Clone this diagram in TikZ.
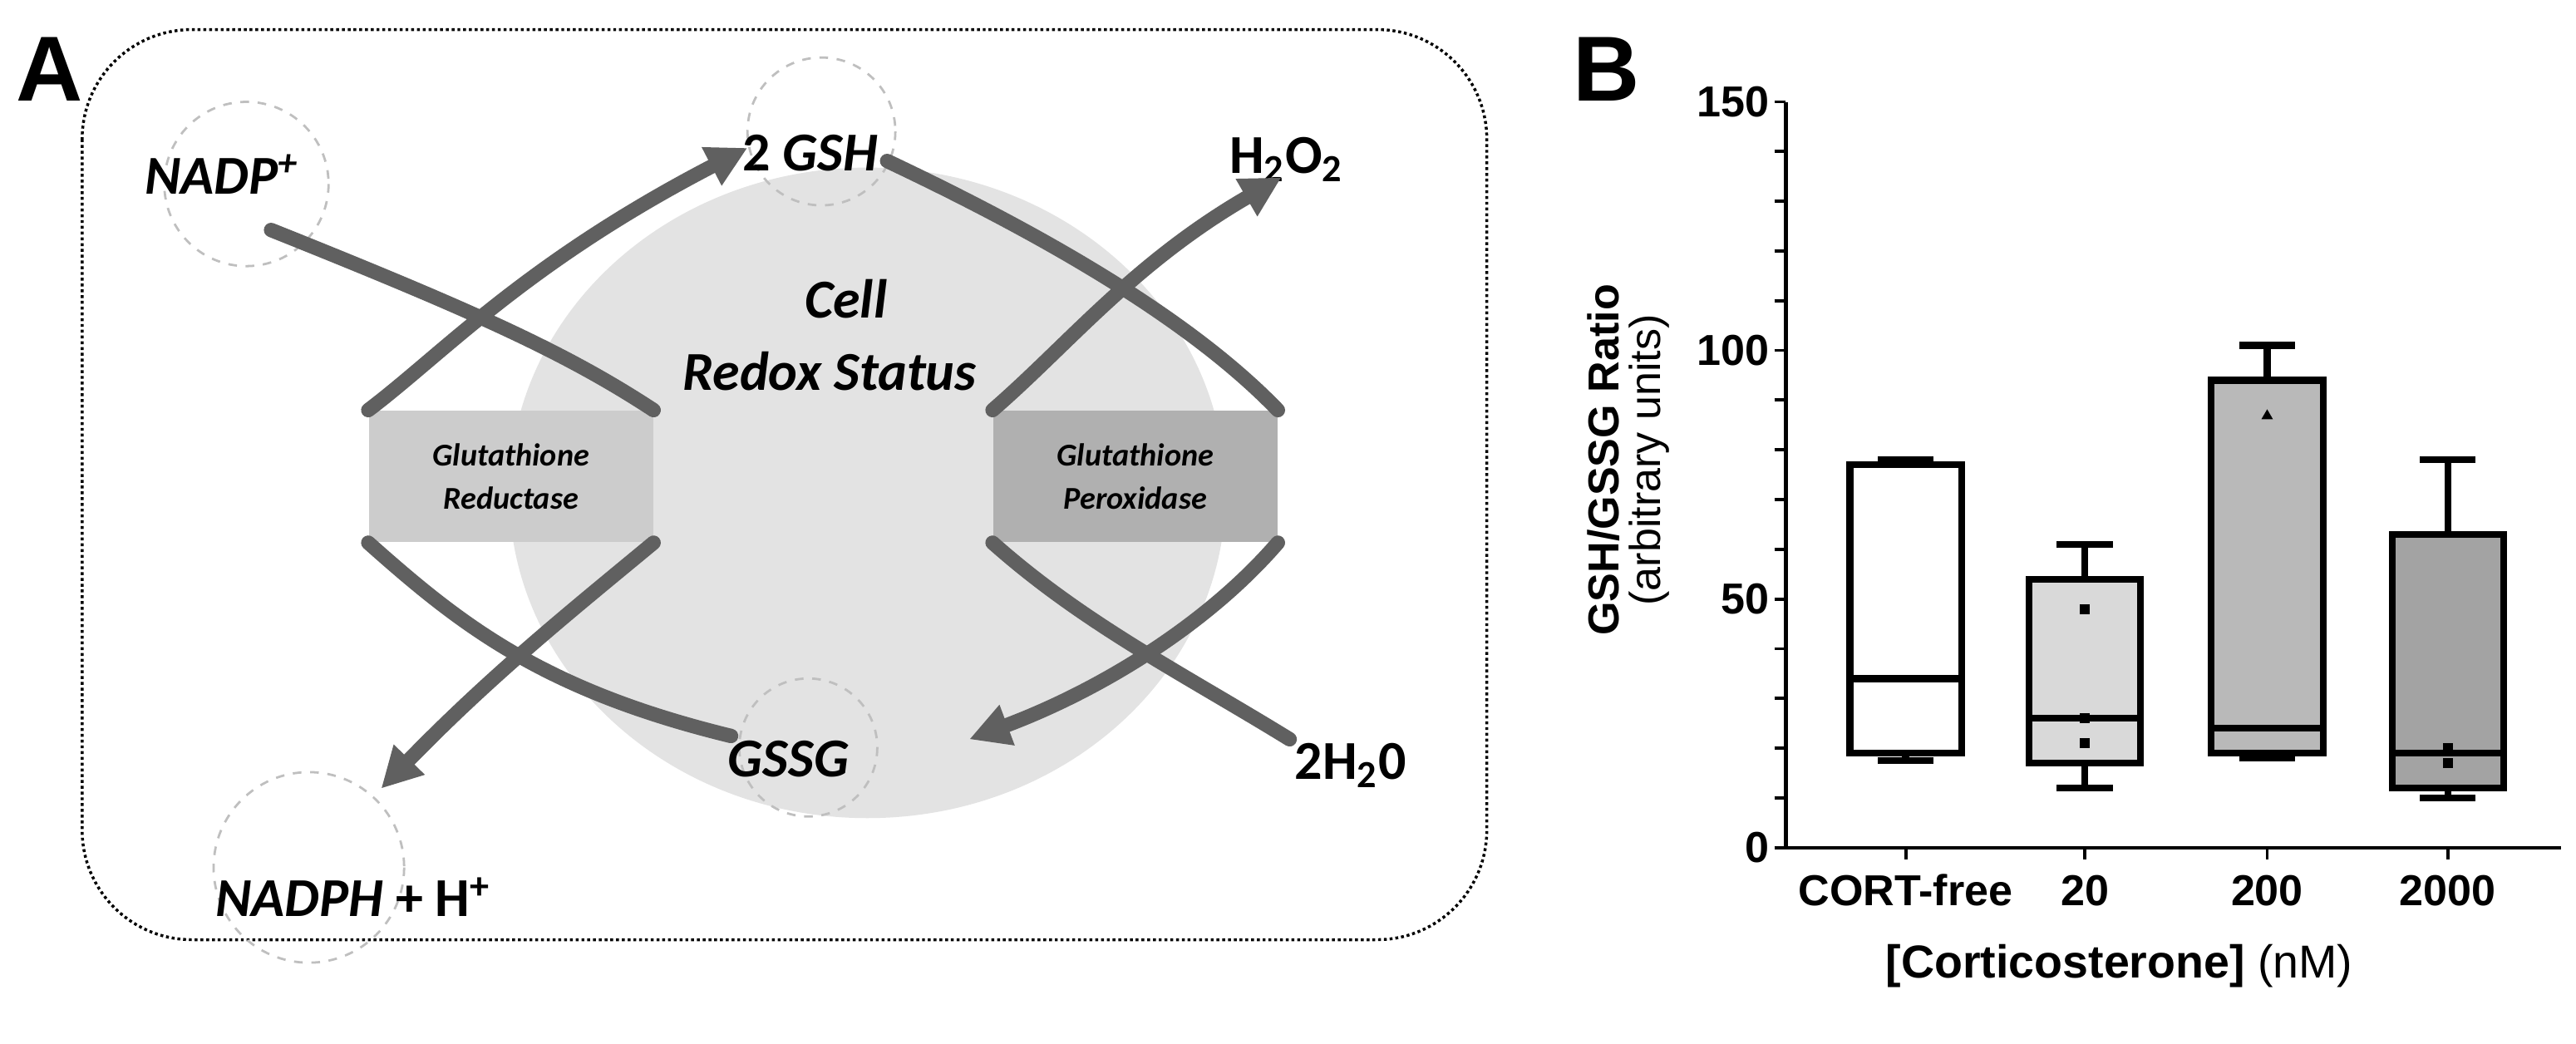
\documentclass[tikz,border=0pt]{standalone}
\usepackage{fontspec}
\setmainfont{Liberation Sans}
\newfontfamily\carl{Carlito}
\usetikzlibrary{arrows.meta}
\begin{document}
\begin{tikzpicture}[x=0.02cm,y=-0.02cm,
  lab/.style={font=\carl\bfseries\itshape\fontsize{19}{22}\selectfont},
  dc/.style={draw=gray!50,dashed,line width=0.8pt},
  flow/.style={draw=gray!75!black,line width=5pt,line cap=round},
  flowa/.style={flow,-{Triangle[length=14pt,width=14pt]}},
  enz/.style={font=\carl\bfseries\itshape\fontsize{11}{15}\selectfont,align=center,minimum width=3.46cm,minimum height=1.6cm},
  bx/.style={draw=black,line width=2.4pt},
  tick/.style={font=\bfseries\fontsize{15}{17}\selectfont}]
\useasboundingbox (0,0) rectangle (1568,635);
% Panel A
\node[font=\bfseries\fontsize{32}{34}\selectfont] (A) at (30,42) {A};
\draw[line width=1pt,densely dotted,rounded corners=38pt] (50,18) rectangle (905,572);
\fill[gray!22] (528,300) ellipse (218 and 198);
\draw[dc] (150,112) circle (50);
\draw[dc] (500,80) circle (45);
\draw[dc] (492,455) circle (42);
\draw[dc] (188,528) circle (58);
\node[enz,fill=gray!40] (GR) at (311,290) {Glutathione\\Reductase};
\node[enz,fill=gray!62] (GP) at (691,290) {Glutathione\\Peroxidase};
\node[lab] (nadp) at (135,106) {NADP\textsuperscript{+}};
\node[lab] (gsh) at (493,93) {\upshape 2 \itshape GSH};
\node[lab,font=\carl\bfseries\fontsize{19}{22}\selectfont] (h2o2) at (783,97) {H\textsubscript{2}O\textsubscript{2}};
\node[lab] (cell) at (515,182) {Cell};
\node[lab] (redox) at (505,226) {Redox Status};
\node[lab] (gssg) at (480,462) {GSSG};
\node[lab,font=\carl\bfseries\fontsize{19}{22}\selectfont] (h2o) at (822,466) {2H\textsubscript{2}0};
\node[lab] (nadph) at (215,546) {NADPH\upshape\ + H\textsuperscript{+}};
\coordinate (c1) at (165,140);
\coordinate (c2) at (445,448);
\coordinate (c3) at (540,98);
\coordinate (c4) at (785,450);
% left arrows
\draw[flow] (c1) .. controls (290,190) and (345,215) .. (GR.north east);
\draw[flowa] (GR.north west) .. controls (270,215) and (320,160) .. (455,90);
\draw[flowa] (GR.south east) .. controls (350,370) and (300,410) .. (232,480);
\draw[flow] (GR.south west) .. controls (280,380) and (330,420) .. (c2);
% right arrows
\draw[flow] (c3) .. controls (650,150) and (730,200) .. (GP.north east);
\draw[flowa] (GP.north west) .. controls (650,210) and (690,160) .. (780,108);
\draw[flow] (GP.south west) .. controls (660,380) and (720,410) .. (c4);
\draw[flowa] (GP.south east) .. controls (735,380) and (670,420) .. (590,450);
% Panel B
\node[font=\bfseries\fontsize{32}{34}\selectfont] (B) at (978,42) {B};
\coordinate (o) at (1087,516);
\coordinate (yt) at (1087,62);
\coordinate (xe) at (1559,516);
\draw[line width=1.3pt] (yt) -- (o) -- (xe);
\foreach \v in {0,10,...,150}{\draw[line width=1.1pt] (1080,{516-3.027*\v}) -- (1087,{516-3.027*\v});}
\foreach \v in {0,50,100,150}{\node[tick,anchor=east,inner sep=1pt] at (1079,{516-3.027*\v}) {\v};}
\foreach \xx/\t in {1160/CORT-free,1269/20,1380/200,1490/2000}{
  \draw[line width=1.1pt] (\xx,516) -- (\xx,523);
  \node[tick] at (\xx,542) {\t};}
\node[font=\fontsize{16}{18}\selectfont] (xl) at (1290,588) {\textbf{[Corticosterone]} (nM)};
\node[rotate=90,font=\bfseries\fontsize{15}{17}\selectfont] (yl1) at (976,280) {GSH/GSSG Ratio};
\node[rotate=90,font=\fontsize{15}{17}\selectfont] (yl2) at (1004,280) {(arbitrary units)};
\foreach \xx/\wl/\qa/\md/\qb/\wh/\fc in {1160/17.5/19/34/77/78/white,1269/12/17/26/54/61/gray!30,1380/18/19/24/94/101/gray!55,1490/10/12/19/63/78/gray!72}{
  \draw[bx] (\xx,{516-3.027*\wl}) -- (\xx,{516-3.027*\qa});
  \draw[bx] (\xx,{516-3.027*\qb}) -- (\xx,{516-3.027*\wh});
  \draw[bx] (\xx-17,{516-3.027*\wl}) -- (\xx+17,{516-3.027*\wl});
  \draw[bx] (\xx-17,{516-3.027*\wh}) -- (\xx+17,{516-3.027*\wh});
  \draw[bx,fill=\fc] (\xx-34,{516-3.027*\qa}) rectangle (\xx+34,{516-3.027*\qb});
  \draw[bx] (\xx-34,{516-3.027*\md}) -- (\xx+34,{516-3.027*\md});}
\foreach \xx/\v in {1269/48,1269/21,1269/26,1490/20,1490/17}{\fill (\xx-3,{516-3.027*\v-3}) rectangle (\xx+3,{516-3.027*\v+3});}
\fill (1380,{516-3.027*87-3.5}) -- (1376.5,{516-3.027*87+2.5}) -- (1383.5,{516-3.027*87+2.5}) -- cycle;
\end{tikzpicture}
\end{document}
